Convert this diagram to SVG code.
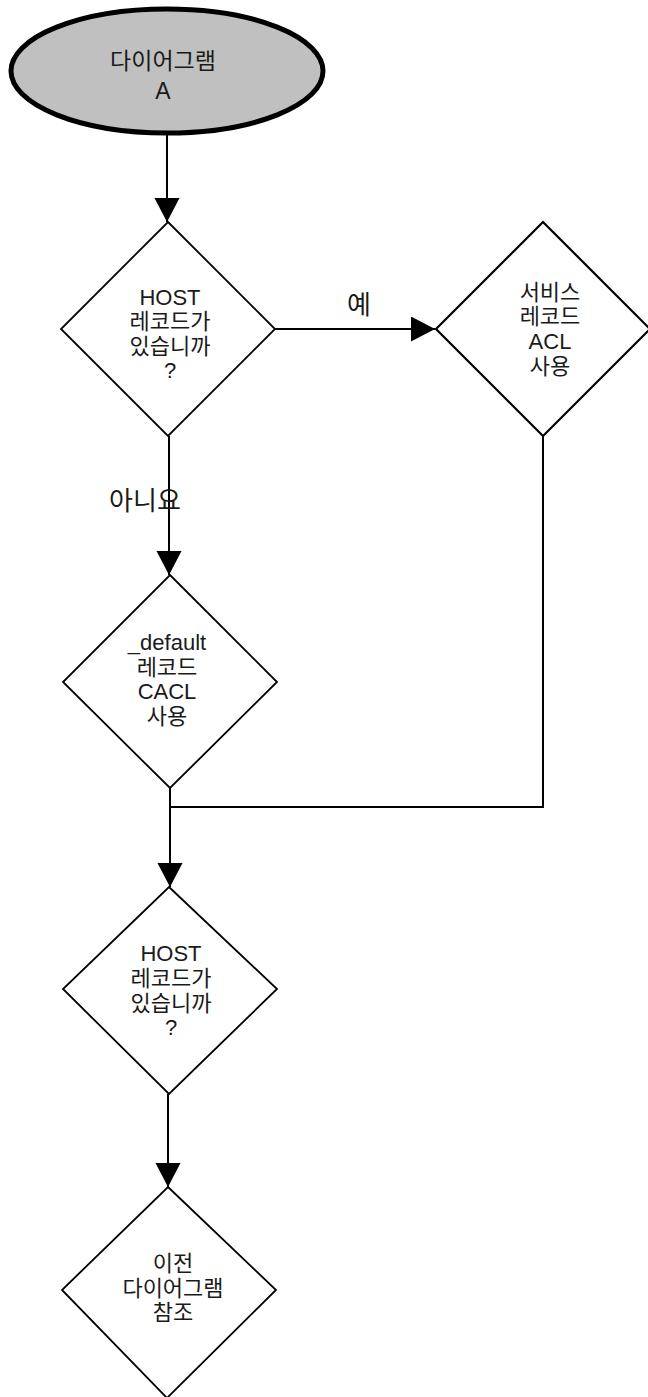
<svg xmlns="http://www.w3.org/2000/svg" width="648" height="1397" viewBox="0 0 648 1397">
<style>
.bg{fill:#ffffff}
.dia{fill:#ffffff;stroke:#000000;stroke-width:1.8}
.start{fill:#c0c0c0;stroke:#000000;stroke-width:5}
.conn{fill:none;stroke:#000000;stroke-width:2}
.t{font-family:"Liberation Sans","Noto Sans CJK KR",Arial,sans-serif;font-size:22px;fill:#1a1a1a;text-anchor:middle;dominant-baseline:central}
.lbl{font-family:"Liberation Sans","Noto Sans CJK KR",Arial,sans-serif;font-size:26px;fill:#1a1a1a;text-anchor:middle;dominant-baseline:central}
</style>
<defs>
<marker id="arr" markerUnits="userSpaceOnUse" markerWidth="25" markerHeight="26" refX="24" refY="12.5" orient="auto">
<path d="M0,0 L24,12.5 L0,25 Z" fill="#000000"/>
</marker>
</defs>
<rect class="bg" x="0" y="0" width="648" height="1397"/>
<g id="connectors">
<path class="conn" d="M167,134 L167,222" marker-end="url(#arr)"/>
<path class="conn" d="M275,329 L435,329" marker-end="url(#arr)"/>
<path class="conn" d="M169,436 L169,575" marker-end="url(#arr)"/>
<path class="conn" d="M543,436 L543,807 L170,807"/>
<path class="conn" d="M170,788 L170,887" marker-end="url(#arr)"/>
<path class="conn" d="M168,1094 L168,1187" marker-end="url(#arr)"/>
<text class="lbl" x="359" y="305">예</text>
<text class="lbl" x="145" y="501">아니요</text>
</g>
<g id="start">
<ellipse class="start" cx="167" cy="71" rx="156" ry="62"/>
<text class="t" x="163" y="61" style="font-size:23px">다이어그램</text>
<text class="t" x="163" y="91" style="font-size:23px">A</text>
</g>
<g id="decision1">
<polygon class="dia" points="168,222 275,329 168,436 61,329"/>
<text class="t" x="170" y="297">HOST</text>
<text class="t" x="170" y="321.5">레코드가</text>
<text class="t" x="170" y="346">있습니까</text>
<text class="t" x="170" y="370">?</text>
</g>
<g id="service">
<polygon class="dia" style="stroke-width:2.2" points="543,222 650,329 543,436 436,329"/>
<text class="t" x="550" y="292">서비스</text>
<text class="t" x="550" y="316.5">레코드</text>
<text class="t" x="550" y="341">ACL</text>
<text class="t" x="550" y="366">사용</text>
</g>
<g id="default">
<polygon class="dia" points="170,575 277,682 170,788 63,682"/>
<text class="t" x="167" y="642.5">_default</text>
<text class="t" x="167" y="667">레코드</text>
<text class="t" x="167" y="691.5">CACL</text>
<text class="t" x="167" y="716">사용</text>
</g>
<g id="decision2">
<polygon class="dia" points="169,887 277,989 169,1094 63,989"/>
<text class="t" x="171" y="953">HOST</text>
<text class="t" x="171" y="978">레코드가</text>
<text class="t" x="171" y="1003">있습니까</text>
<text class="t" x="171" y="1027">?</text>
</g>
<g id="previous">
<polygon class="dia" points="168,1187 276,1290 167,1398 62,1290"/>
<text class="t" x="173" y="1263">이전</text>
<text class="t" x="173" y="1288">다이어그램</text>
<text class="t" x="173" y="1312">참조</text>
</g>
</svg>
